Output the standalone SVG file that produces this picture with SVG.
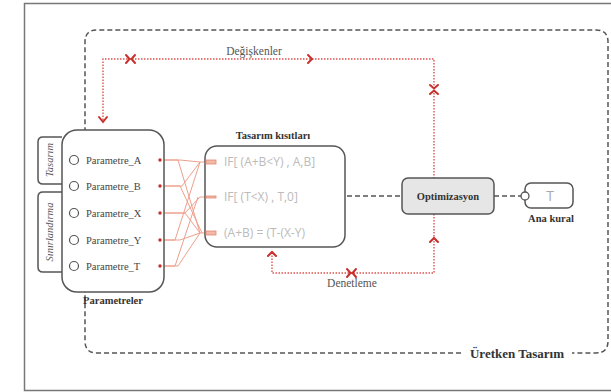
<svg xmlns="http://www.w3.org/2000/svg" width="611" height="392" viewBox="0 0 611 392">
<defs>
<style>
.serif{font-family:"Liberation Serif","Times New Roman",serif;}
.lbl{font-size:10.5px;fill:#444;}
.bold{font-weight:bold;fill:#333;}
.formula{font-family:"Open Sans","Liberation Sans",sans-serif;font-size:12px;fill:#bbb;}
.gdash{fill:none;stroke:#555;stroke-width:1.5;stroke-dasharray:5 3;}
.rdot{fill:none;stroke:#d9534f;stroke-width:1.4;stroke-dasharray:1.5 1.5;}
.mk{fill:none;stroke:#c9302c;stroke-width:2;stroke-linecap:round;}
.wire{fill:none;stroke:#eea08c;stroke-width:1;}
.box{fill:#fff;stroke:#555;stroke-width:1.5;}
</style>
</defs>
<rect x="24.5" y="3.5" width="600" height="387" fill="#fff" stroke="#777" stroke-width="1.5"/>
<g id="frame">
<path class="gdash" d="M461,353 H97 Q85,353 85,341 V42 Q85,30 97,30 H596 Q608,30 608,42 V341 Q608,353 596,353 H572"/>
<text class="serif bold" x="517" y="357.5" font-size="13" text-anchor="middle">Üretken Tasarım</text>
</g>
<g id="connectors">
<path class="rdot" d="M103,120 V59 H434 V178"/>
<path class="rdot" d="M434,214 V273 H272 V252"/>
<path class="mk" d="M99,117 L103,122 L107,117"/>
<path class="mk" d="M126,55 L129.5,59 L126,63 M135,55 L131.5,59 L135,63"/>
<path class="mk" d="M308,55 L312,59 L308,63"/>
<path class="mk" d="M430,85 L434,88.5 L438,85 M430,94 L434,90.5 L438,94"/>
<path class="mk" d="M430,242 L434,238 L438,242"/>
<path class="mk" d="M268,256 L272,252 L276,256"/>
<path class="mk" d="M347,269 L350.5,273 L347,277 M356,269 L352.5,273 L356,277"/>
<text class="serif" x="254" y="55" font-size="11.5" fill="#555" text-anchor="middle">Değişkenler</text>
<text class="serif" x="352" y="287" font-size="11.5" fill="#555" text-anchor="middle">Denetleme</text>
<line class="gdash" x1="347" y1="196" x2="402" y2="196"/>
<line class="gdash" x1="494" y1="196" x2="521" y2="196"/>
<g id="wires">
<path class="wire" d="M161,160 H180 L200,162 H208"/>
<path class="wire" d="M161,160 H178 L200,233 H208"/>
<path class="wire" d="M161,186 H182 L200,162"/>
<path class="wire" d="M161,186 H180 L202,233"/>
<path class="wire" d="M161,213 H185 L200,197 H208"/>
<path class="wire" d="M161,213 H185 L200,233"/>
<path class="wire" d="M161,240 H175 L200,162"/>
<path class="wire" d="M161,240 H180 L200,233"/>
<path class="wire" d="M161,266 H175 L198,197"/>
<path class="wire" d="M161,266 H178 L200,233"/>
</g>
</g>
<g id="tab-tasarim">
<path class="box" d="M62,137 H43 Q38,137 38,142 V179 Q38,184 43,184 H62"/>
<text class="serif" transform="translate(53,160) rotate(-90)" font-size="10.5" font-style="italic" fill="#555" text-anchor="middle">Tasarım</text>
</g>
<g id="tab-sinirlandirma">
<path class="box" d="M62,192 H43 Q38,192 38,197 V267 Q38,272 43,272 H62"/>
<text class="serif" transform="translate(53,232) rotate(-90)" font-size="10.5" font-style="italic" fill="#555" text-anchor="middle">Sınırlandırma</text>
</g>
<g id="parametreler">
<rect class="box" x="62" y="130" width="102" height="162" rx="15"/>
<g fill="#fff" stroke="#555" stroke-width="1.2">
<circle cx="74" cy="160" r="4.5"/><circle cx="74" cy="186" r="4.5"/><circle cx="74" cy="213" r="4.5"/><circle cx="74" cy="240" r="4.5"/><circle cx="74" cy="266" r="4.5"/>
</g>
<g fill="#c9302c">
<circle cx="160" cy="160" r="1.7"/><circle cx="160" cy="186" r="1.7"/><circle cx="160" cy="213" r="1.7"/><circle cx="160" cy="240" r="1.7"/><circle cx="160" cy="266" r="1.7"/>
</g>
<g class="serif lbl">
<text x="86" y="163.5">Parametre_A</text>
<text x="86" y="189.5">Parametre_B</text>
<text x="86" y="216.5">Parametre_X</text>
<text x="86" y="243.5">Parametre_Y</text>
<text x="86" y="269.5">Parametre_T</text>
</g>
<text class="serif bold" x="113" y="304" font-size="10.5" text-anchor="middle">Parametreler</text>
</g>
<g id="kisitlar">
<rect class="box" x="205" y="146" width="140" height="101" rx="12"/>
<text class="serif bold" x="273" y="139" font-size="10.5" text-anchor="middle">Tasarım kısıtları</text>
<g fill="#f2b8a8" stroke="#e08a74" stroke-width="0.8">
<rect x="206" y="160" width="10" height="4"/>
<rect x="206" y="196" width="10" height="2"/>
<rect x="206" y="231" width="10" height="4"/>
</g>
<text class="formula" x="224" y="166">IF[ (A+B&lt;Y) , A,B]</text>
<text class="formula" x="224" y="201">IF[ (T&lt;X) , T,0]</text>
<text class="formula" x="224" y="237">(A+B) = (T-(X-Y)</text>
</g>
<g id="optimizasyon">
<rect x="402" y="178" width="92" height="36" rx="6" fill="#e6e6e6" stroke="#555" stroke-width="1.5"/>
<text class="serif bold" x="448" y="200" font-size="10.5" text-anchor="middle">Optimizasyon</text>
</g>
<g id="ana-kural">
<rect class="box" x="525" y="183" width="48" height="25" rx="6"/>
<circle cx="525" cy="196" r="4" fill="#fff" stroke="#555" stroke-width="1.3"/>
<text x="550" y="201" font-family="'Open Sans','Liberation Sans',sans-serif" font-size="14" fill="#aaa" text-anchor="middle">T</text>
<text class="serif bold" x="551" y="222" font-size="10.5" text-anchor="middle">Ana kural</text>
</g>
</svg>
